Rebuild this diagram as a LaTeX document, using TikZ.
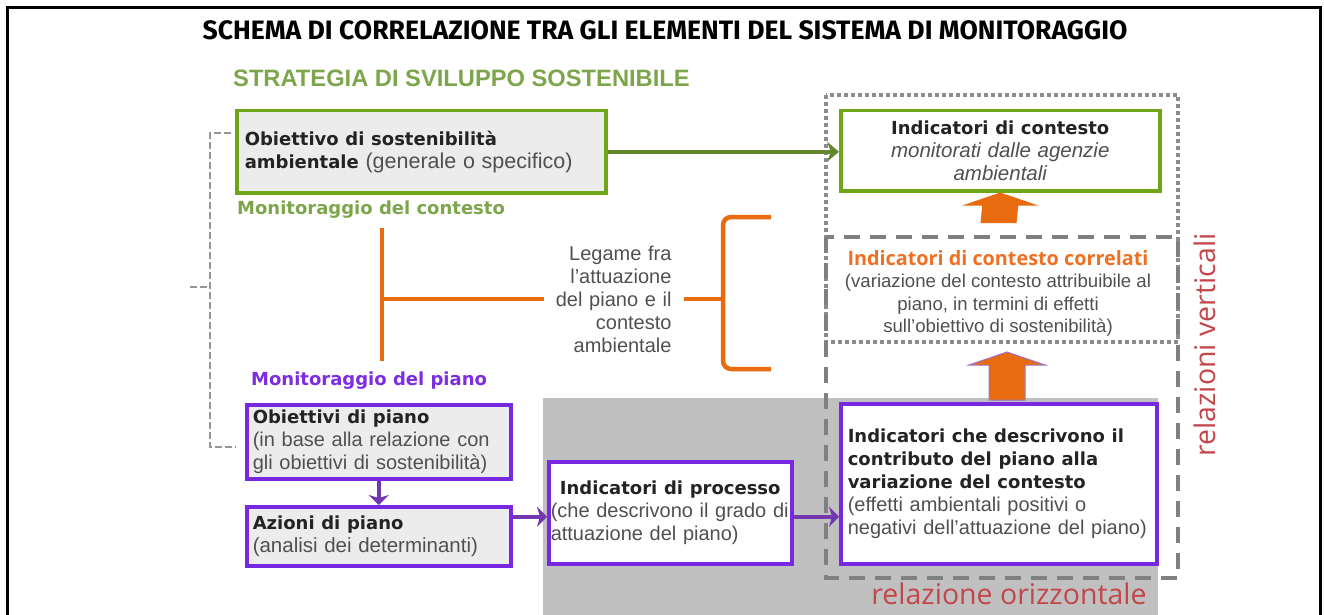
\documentclass[tikz,border=0pt]{standalone}
\usepackage{fontspec}
\setmainfont{Liberation Sans}
\newfontfamily\titlefont{Fira Sans}
\newfontfamily\headfont{DejaVu Sans}
\newfontfamily\relfont{Open Sans}
\usetikzlibrary{arrows.meta,calc,positioning}

\definecolor{stratgreen}{RGB}{125,165,75}
\definecolor{boxgreen}{RGB}{110,165,25}
\definecolor{arrowgreen}{RGB}{100,135,45}
\definecolor{monpurple}{RGB}{125,45,225}
\definecolor{boxpurple}{RGB}{120,40,225}
\definecolor{arrowpurple}{RGB}{115,55,175}
\definecolor{orangec}{RGB}{232,108,15}
\definecolor{corrorange}{RGB}{240,112,35}
\definecolor{redtext}{RGB}{195,70,75}
\definecolor{dotgray}{RGB}{140,140,140}
\definecolor{dashgray}{RGB}{128,128,128}
\definecolor{bracketgray}{RGB}{150,150,150}
\definecolor{fillgray}{RGB}{236,236,236}
\definecolor{shadegray}{RGB}{192,192,192}
\definecolor{txtgray}{RGB}{80,80,80}
\definecolor{txtdark}{RGB}{35,35,35}

\newcommand{\hd}[1]{{\headfont\bfseries\fontsize{18}{23}\selectfont\color{txtdark}#1}}
% block arrow pointing up: base (#2), tip (#3)
\def\blockup[#1](#2)(#3){\filldraw[#1] ($(#2)+(-18,0)$) -- ($(#3)+(-18,13)$) -- ($(#3)+(-38,13)$) -- (#3) -- ($(#3)+(38,13)$) -- ($(#3)+(18,13)$) -- ($(#2)+(18,0)$) -- cycle}

\tikzset{
  box/.style={rectangle, line width=3.5pt, inner ysep=0pt, anchor=north west,
    align=left, text=txtgray, font=\fontsize{20}{23}\selectfont},
  greenbox/.style={box, draw=boxgreen},
  purplebox/.style={box, draw=boxpurple},
  garrow/.style={draw=arrowgreen, line width=4pt, -{Stealth[length=12pt,width=20pt,inset=4pt]}},
  parrow/.style={draw=arrowpurple, line width=4.5pt, -{Stealth[length=10pt,width=20pt,inset=3pt]}},
  obracket/.style={draw=orangec, line width=4.5pt},
  gbracket/.style={draw=bracketgray, line width=2.5pt, dash pattern=on 7pt off 3pt},
  dotbox/.style={draw=dotgray, line width=3.5pt, dash pattern=on 4pt off 3pt},
  dashbox/.style={draw=dashgray, line width=4.5pt, dash pattern=on 16pt off 10pt},
  monlabel/.style={anchor=west, inner sep=0pt, font=\headfont\bfseries\fontsize{18}{20}\selectfont},
  rellabel/.style={inner sep=0pt, text=redtext, font=\relfont\fontsize{28.5}{32}\selectfont}
}

\begin{document}
\begin{tikzpicture}[x=1pt,y=-1pt]
    \useasboundingbox (0,0) rectangle (1324,615);

    %%% Frame and title %%%
    \draw[line width=3pt] (7.5,625) -- (7.5,8) -- (1320.5,8) -- (1320.5,625);
    \node[font=\titlefont\bfseries\fontsize{26.6}{28}\selectfont] (title) at (665,30)
        {SCHEMA DI CORRELAZIONE TRA GLI ELEMENTI DEL SISTEMA DI MONITORAGGIO};

    %%% Shaded area and relation frames %%%
    \fill[shadegray] (543,398) rectangle (1158,625);
    \draw[dotbox] (826,95) rectangle (1178,342);
    \draw[dashbox] (826,237) rectangle (1178,578);

    %%% Strategy side %%%
    \node[anchor=west, inner sep=0pt, text=stratgreen,
        font=\bfseries\fontsize{23.7}{26}\selectfont] (strat) at (233,78)
        {STRATEGIA DI SVILUPPO SOSTENIBILE};
    \node[greenbox, fill=fillgray, minimum width=369, minimum height=82,
        text width=353, inner xsep=8pt] (obsost) at (235,109)
        {\hd{Obiettivo di sostenibilità}\\
         \hd{ambientale} {\fontsize{21.5}{23}\selectfont (generale o specifico)}};
    \node[monlabel, text=stratgreen] (moncont) at (237,210) {Monitoraggio del contesto};

    %%% Context indicators %%%
    \node[greenbox, fill=white, minimum width=319, minimum height=80,
        text width=303, inner xsep=8pt, align=center] (ctx) at (839,109)
        {\hd{Indicatori di contesto}\\
         {\fontsize{20.5}{23}\selectfont\itshape monitorati dalle agenzie}\\
         {\fontsize{20.5}{23}\selectfont\itshape ambientali}};
    \node[align=center, text=txtgray, font=\fontsize{18.6}{22.4}\selectfont] (corr) at (998,293.5)
        {{\relfont\bfseries\fontsize{19.8}{22.4}\selectfont\color{corrorange}Indicatori di contesto correlati}\\
         (variazione del contesto attribuibile al\\
         piano, in termini di effetti\\
         sull'obiettivo di sostenibilità)};

    %%% Link between plan and context %%%
    \node[align=right, text=txtgray, inner xsep=4.5pt, text width=123,
        font=\fontsize{20}{23}\selectfont] (legame) at (610,299)
        {Legame fra\\l'attuazione\\del piano e il\\contesto\\ambientale};
    \coordinate (lbtop) at (382,228);
    \coordinate (lbbot) at (382,361);
    \coordinate (rbtop) at (771,217);
    \coordinate (rbbot) at (771,369);
    \coordinate (rbspine) at (723,217);
    \draw[obracket] (lbtop) -- (lbbot);
    \draw[obracket] (lbtop |- legame.west) -- (legame.west);
    \draw[obracket] ([xshift=8pt]legame.east) -- (legame.east -| rbspine);
    \draw[obracket, rounded corners=8pt] (rbtop) -- (rbspine) -- (rbspine |- rbbot) -- (rbbot);

    %%% Plan side %%%
    \node[monlabel, text=monpurple] (monpiano) at (251,381) {Monitoraggio del piano};
    \node[purplebox, fill=fillgray, minimum width=264, minimum height=74,
        text width=252, inner xsep=6pt] (obpiano) at (245,403)
        {\hd{Obiettivi di piano}\\
         (in base alla relazione con\\
         gli obiettivi di sostenibilità)};
    \node[purplebox, fill=fillgray, minimum width=264, minimum height=59,
        text width=252, inner xsep=6pt] (azioni) at (245,505)
        {\hd{Azioni di piano}\\
         {\fontsize{20.5}{23}\selectfont (analisi dei determinanti)}};
    \node[purplebox, fill=white, minimum width=243, minimum height=102,
        text width=239, inner xsep=2pt] (processo) at (547,460)
        {\makebox[239pt][c]{\hd{Indicatori di processo}}\\
         (che descrivono il grado di\\
         attuazione del piano)};
    \node[purplebox, fill=white, minimum width=316, minimum height=160,
        text width=302, inner xsep=7pt] (contr) at (839,402)
        {\hd{Indicatori che descrivono il}\\
         \hd{contributo del piano alla}\\
         \hd{variazione del contesto}\\
         (effetti ambientali positivi o\\
         negativi dell'attuazione del piano)};

    %%% Gray bracket %%%
    \coordinate (gbtop) at (231,133);
    \coordinate (gbspine) at (210,287);
    \coordinate (gbbot) at (236,447);
    \coordinate (gbtick) at (190,287);
    \draw[gbracket] (gbtop) -| (gbspine) |- (gbbot);
    \draw[gbracket] (gbtick) -- (gbspine);

    %%% Connectors %%%
    \draw[garrow] (obsost.east) -- (obsost.east -| ctx.west);
    \draw[parrow] (obpiano.south) -- (azioni.north);
    \draw[parrow] ([yshift=-4pt]processo.west -| azioni.east) -- ([yshift=-4pt]processo.west);
    \draw[parrow] ([yshift=-4pt]processo.east) -- ([yshift=-4pt]processo.east -| contr.west);
    \coordinate (corrtop) at (998.5,223);
    \coordinate (corrbase) at (1007,352);
    \coordinate (contrtop) at (1007,400);
    \blockup[fill=orangec, draw=none](corrtop)(ctx.south);
    \blockup[fill=orangec, draw=arrowpurple!70, line width=1pt](contrtop)(corrbase);

    %%% Relation labels %%%
    \node[rellabel] (orizz) at (1009,594) {relazione orizzontale};
    \node[rellabel, rotate=90] (vert) at (1205,345) {relazioni verticali};
\end{tikzpicture}
\end{document}
